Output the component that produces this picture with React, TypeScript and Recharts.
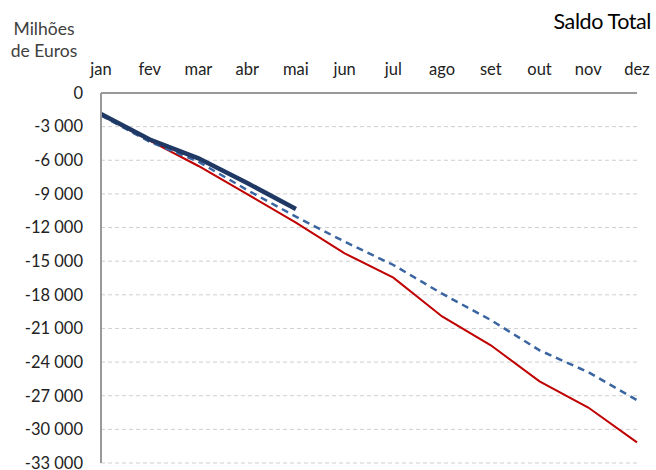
import { LineChart, Line, XAxis, YAxis, CartesianGrid } from "recharts";

const MONTHS = ["jan", "fev", "mar", "abr", "mai", "jun", "jul", "ago", "set", "out", "nov", "dez"];

// executado (ano corrente) — só até maio
const ACTUAL = [-1870, -4150, -5830, -8030, -10350];
// ano anterior
const PREV_YEAR = [-1960, -4250, -6510, -9010, -11570, -14300, -16470, -19930, -22500, -25720, -28050, -31160];
// previsão / objetivo
const TARGET = [-2000, -4350, -6130, -8650, -11030, -13260, -15340, -17900, -20250, -22950, -24900, -27390];

const Y_TICKS = [0, -3000, -6000, -9000, -12000, -15000, -18000, -21000, -24000, -27000, -30000, -33000];

const data = MONTHS.map((m, i) => ({
  month: m,
  actual: i < ACTUAL.length ? ACTUAL[i] : null,
  prev: PREV_YEAR[i],
  target: TARGET[i],
}));

const FONT = "Lato, 'Open Sans', sans-serif";

function fmt(v: number) {
  if (v === 0) return "0";
  const s = Math.abs(v).toString().replace(/\B(?=(\d{3})+(?!\d))/g, " ");
  return (v < 0 ? "-" : "") + s;
}

export default function App() {
  return (
    <div style={{ position: "absolute", left: 0, top: 0, width: 656, height: 470, background: "#fff", fontFamily: FONT }}>
      <div style={{ position: "absolute", left: 10, top: 18, width: 68, fontSize: 17.5, lineHeight: "22px", color: "#404040", textAlign: "center" }}>
        Milhões
        <br />
        de Euros
      </div>
      <div style={{ position: "absolute", right: 5, top: 8, fontSize: 21.5, color: "#000", letterSpacing: -0.4 }}>Saldo Total</div>
      <LineChart width={656} height={470} data={data} margin={{ top: 63, right: 19, bottom: 7, left: 0 }}>
        <CartesianGrid vertical={false} stroke="#cfcfcf" strokeDasharray="4 3" />
        <XAxis
          dataKey="month"
          orientation="top"
          height={30}
          axisLine={{ stroke: "#999", strokeWidth: 2 }}
          tickLine={false}
          tickMargin={12}
          interval={0}
          tick={{ fontSize: 16.5, fill: "#222", fontFamily: FONT }}
        />
        <YAxis
          domain={[-33000, 0]}
          ticks={Y_TICKS}
          interval={0}
          width={101}
          axisLine={{ stroke: "#999", strokeWidth: 2 }}
          tickLine={false}
          tickMargin={12}
          tickFormatter={fmt}
          tick={{ fontSize: 16.5, fill: "#222", fontFamily: FONT }}
        />
        <Line dataKey="prev" stroke="#C00000" strokeWidth={2} dot={false} isAnimationActive={false} />
        <Line dataKey="target" stroke="#3A65A0" strokeWidth={2.5} strokeDasharray="7 5" dot={false} isAnimationActive={false} />
        <Line dataKey="actual" stroke="#203864" strokeWidth={4.5} dot={false} connectNulls={false} isAnimationActive={false} />
      </LineChart>
    </div>
  );
}
